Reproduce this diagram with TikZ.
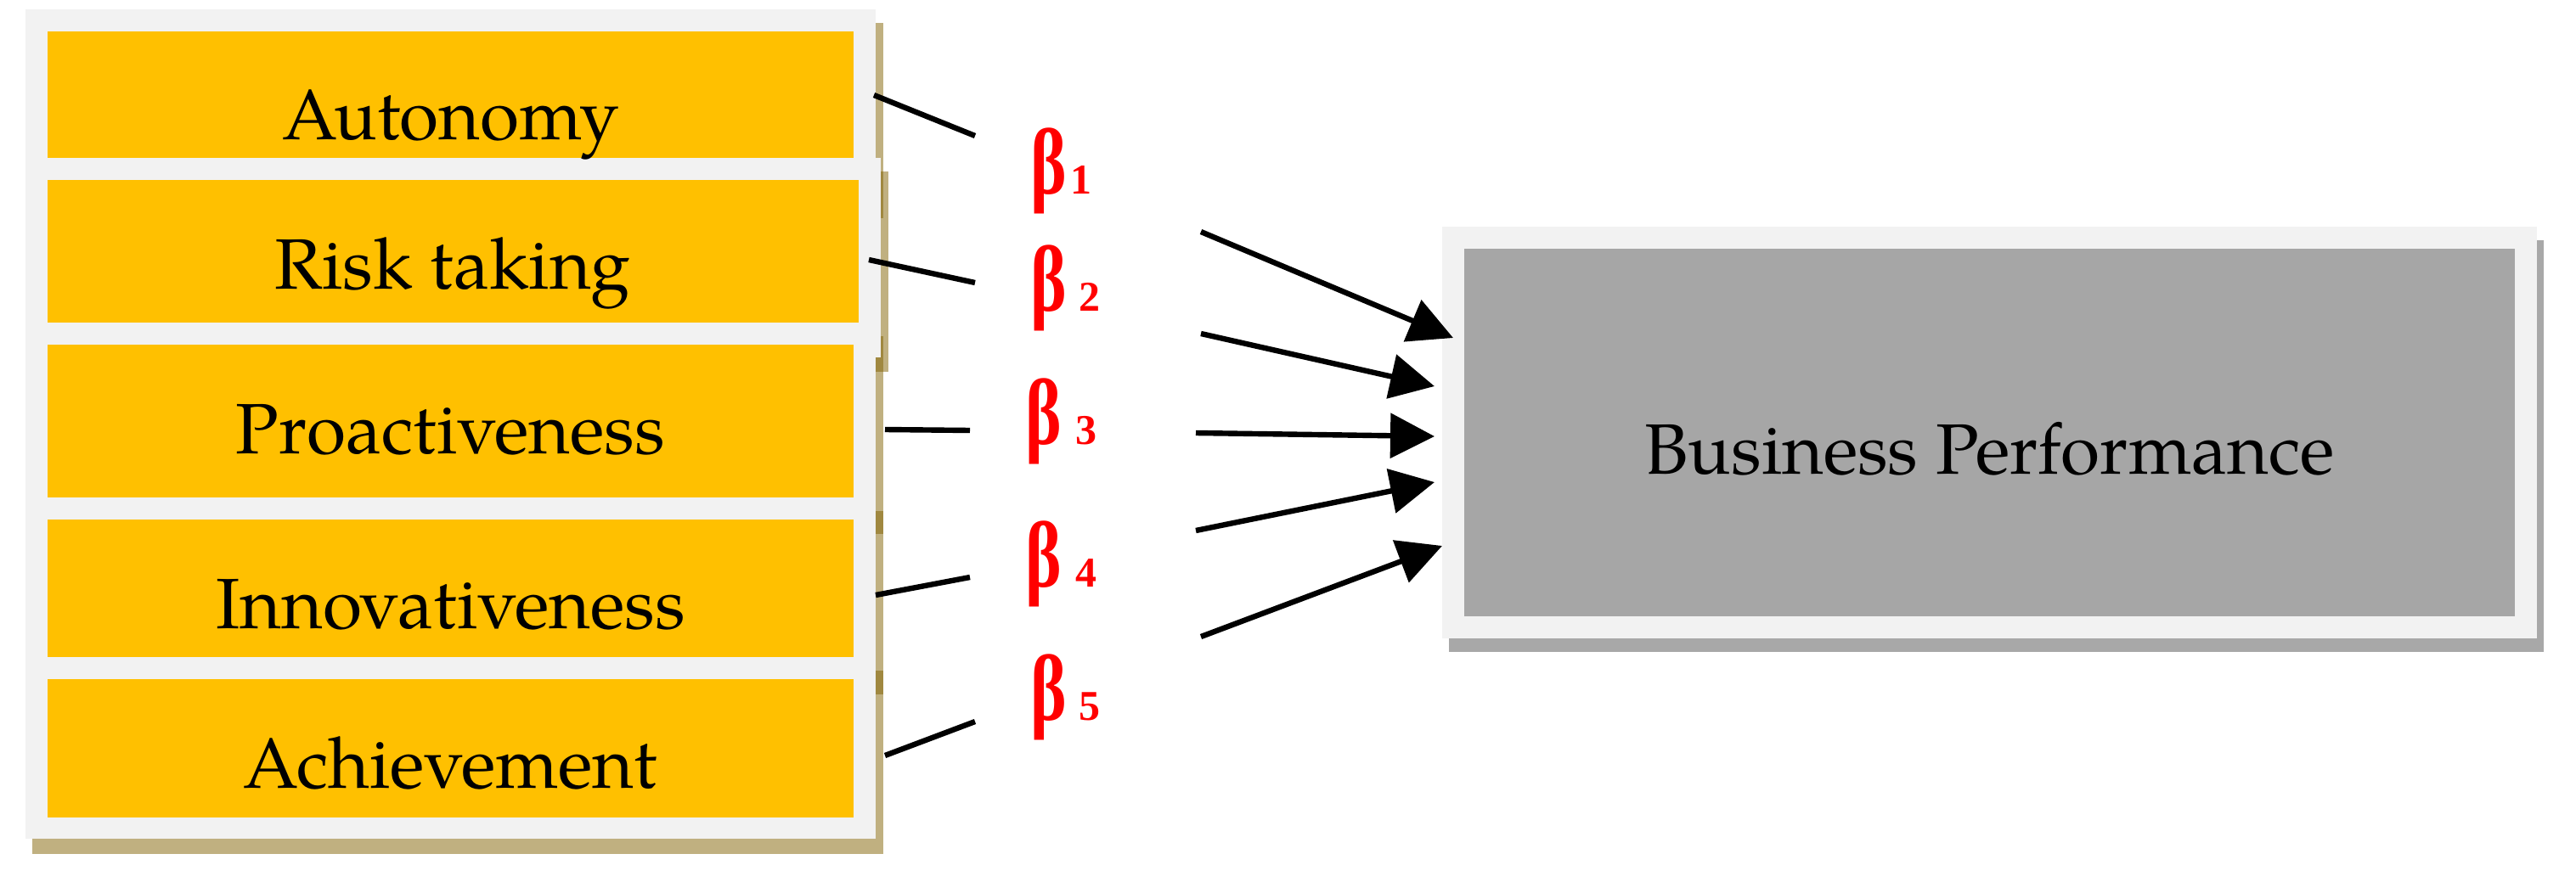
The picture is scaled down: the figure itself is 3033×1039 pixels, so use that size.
\documentclass[tikz,border=0pt]{standalone}
\usepackage{graphicx}
\usepackage{fontspec}
\setmainfont{TeX Gyre Pagella}
\newfontfamily\betafont{Liberation Serif}
\usetikzlibrary{arrows.meta}
\definecolor{boxyellow}{HTML}{FFC000}
\definecolor{panelgray}{HTML}{F2F2F2}
\definecolor{tanshadow}{HTML}{C0B080}
\definecolor{darktan}{HTML}{A08840}
\definecolor{bpgray}{HTML}{A6A6A6}
\definecolor{bpshadow}{HTML}{A8A8A8}
\definecolor{betared}{HTML}{FF0000}
\newcommand{\betasym}{\scalebox{0.88}[1.2]{\fontsize{23}{26}\selectfont β}}
\begin{document}
\begin{tikzpicture}[x=0.25pt,y=-0.25pt,
  rowbox/.style={rectangle, fill=boxyellow, inner sep=0pt, minimum width=237.25pt},
  rowtext/.style={anchor=base, inner sep=0pt, font=\fontsize{21}{25}\selectfont, text=black},
  bpbox/.style={rectangle, fill=bpgray, inner sep=0pt, minimum width=309.25pt, minimum height=108.25pt},
  betalab/.style={anchor=base west, inner sep=0pt, text=betared, font=\betafont\bfseries},
  conn/.style={line width=1.6pt, black},
  arr/.style={line width=1.6pt, black, -{Triangle[length=13pt,width=13pt]}}
]
\useasboundingbox (0,0) rectangle (3033,1039);

% left panel with shadow
\fill[tanshadow] (38,27) rectangle (1040,1006);
\fill[tanshadow] (1037,202) rectangle (1046,438);
\fill[darktan] (1037,202) rectangle (1040,257);
\fill[darktan] (1037,396) rectangle (1040,421);
\fill[darktan] (1031,421) rectangle (1040,438);
\fill[darktan] (1031,602) rectangle (1040,629);
\fill[darktan] (1031,790) rectangle (1040,818);
\fill[panelgray] (30,11) rectangle (1031,988);
\fill[panelgray] (1031,186) rectangle (1037,421);

% rows
\node[rowbox, minimum height=37.25pt] (autonomy) at (530.5,111.5) {};
\node[rowbox, minimum width=238.75pt, minimum height=42pt] (risk) at (533.5,296) {};
\node[rowbox, minimum height=45pt] (proact) at (530.5,496) {};
\node[rowbox, minimum height=40.5pt] (innov) at (530.5,693) {};
\node[rowbox, minimum height=40.75pt] (achieve) at (530.5,881.5) {};

\node[rowtext] (autonomyT) at (530.5,165) {Autonomy};
\node[rowtext] (riskT) at (533,340) {Risk taking};
\node[rowtext] (proactT) at (530.5,534) {Proactiveness};
\node[rowtext] (innovT) at (530.5,740) {Innovativeness};
\node[rowtext] (achieveT) at (530.5,928) {Achievement};

% right panel
\fill[bpshadow] (1706,283) rectangle (2995,768);
\fill[panelgray] (1698,267) rectangle (2987,752);
\node[bpbox] (bp) at (2342.5,509.5) {};
\node[rowtext] (bpT) at (2342.5,558) {Business Performance};

% beta labels
\node[betalab] (b1) at (1213,228) {\betasym\fontsize{12.5}{14}\selectfont\hspace{1pt}1};
\node[betalab] (b2) at (1213,366) {\betasym\fontsize{12.5}{14}\selectfont\hspace{3.6pt}2};
\node[betalab] (b3) at (1207,523) {\betasym\fontsize{12.5}{14}\selectfont\hspace{4pt}3};
\node[betalab] (b4) at (1207,691) {\betasym\fontsize{12.5}{14}\selectfont\hspace{4pt}4};
\node[betalab] (b5) at (1213,848) {\betasym\fontsize{12.5}{14}\selectfont\hspace{3.6pt}5};

% connector end points
\coordinate (l1a) at (1029,112); \coordinate (l1b) at (1148,160);
\coordinate (l2a) at (1023,306); \coordinate (l2b) at (1148,333);
\coordinate (l3a) at (1042,506); \coordinate (l3b) at (1142,507);
\coordinate (l4a) at (1031,701); \coordinate (l4b) at (1142,680);
\coordinate (l5a) at (1042,890); \coordinate (l5b) at (1148,850);

\coordinate (a1a) at (1414,273); \coordinate (a1b) at (1711,398);
\coordinate (a2a) at (1414,393); \coordinate (a2b) at (1689,455);
\coordinate (a3a) at (1408,510); \coordinate (a3b) at (1689,514);
\coordinate (a4a) at (1408,625); \coordinate (a4b) at (1689,568);
\coordinate (a5a) at (1414,750); \coordinate (a5b) at (1698,643);

\draw[conn] (l1a) -- (l1b);
\draw[conn] (l2a) -- (l2b);
\draw[conn] (l3a) -- (l3b);
\draw[conn] (l4a) -- (l4b);
\draw[conn] (l5a) -- (l5b);

\draw[arr] (a1a) -- (a1b);
\draw[arr] (a2a) -- (a2b);
\draw[arr] (a3a) -- (a3b);
\draw[arr] (a4a) -- (a4b);
\draw[arr] (a5a) -- (a5b);
\end{tikzpicture}
\end{document}
